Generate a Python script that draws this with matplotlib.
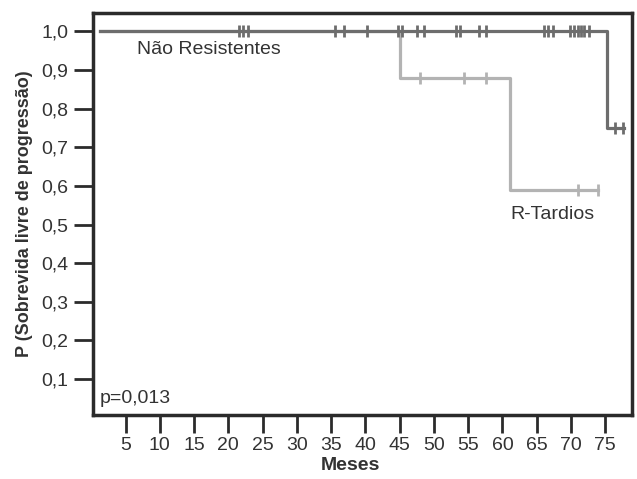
import numpy as np
import matplotlib
matplotlib.use("Agg")
import matplotlib.pyplot as plt

plt.rcParams['font.family'] = ['Liberation Sans', 'DejaVu Sans']

# Kaplan-Meier step curves (time in months, survival probability)
NR_TIMES = [1.2, 75.3, 77.8]
NR_SURV = [1.0, 0.75, 0.75]
NR_CENSOR = [21.5, 22.2, 22.9, 35.6, 36.9, 40.2, 44.8, 45.3, 47.5, 48.6,
             53.3, 53.8, 56.6, 57.6, 66.0, 66.7, 67.4, 69.9, 70.5, 71.1,
             71.5, 71.9, 72.6, 76.5, 77.6]

RT_TIMES = [1.2, 45.1, 61.1, 74.0]
RT_SURV = [1.0, 0.88, 0.59, 0.59]
RT_CENSOR = [48.0, 54.4, 57.6, 71.1, 74.0]

XTICKS = [5, 10, 15, 20, 25, 30, 35, 40, 45, 50, 55, 60, 65, 70, 75]
YTICKS = [0.1, 0.2, 0.3, 0.4, 0.5, 0.6, 0.7, 0.8, 0.9, 1.0]

DARK = '#6d6d6d'
LIGHT = '#b3b3b3'
TEXT = '#333333'
FRAME = '#2b2b2b'


def surv_at(times, surv, t):
    i = np.searchsorted(times, t, side='right') - 1
    return np.array(surv)[i]


def draw_curve(ax, times, surv, censor, color):
    ax.step(times, surv, where='post', color=color, lw=2.3, zorder=3)
    ax.plot(censor, surv_at(times, surv, censor), ls='none', marker='|',
            ms=9, mew=2, color=color, zorder=4)


def main():
    fig = plt.figure(figsize=(6.37, 4.79), dpi=100)
    ax = fig.add_axes([0.146, 0.1336, 0.846, 0.8394])

    draw_curve(ax, RT_TIMES, RT_SURV, RT_CENSOR, LIGHT)
    draw_curve(ax, NR_TIMES, NR_SURV, NR_CENSOR, DARK)

    ax.set_xlim(0.25, 78.9)
    ax.set_ylim(0.007, 1.048)
    ax.set_xticks(XTICKS)
    ax.set_yticks(YTICKS)
    ax.set_yticklabels([("%.1f" % v).replace('.', ',') for v in YTICKS])
    ax.tick_params(axis='both', length=13, width=2, color=FRAME,
                   labelsize=14, labelcolor=TEXT, pad=3)
    ax.tick_params(axis='y', length=14, pad=4)
    for s in ax.spines.values():
        s.set_linewidth(2.5)
        s.set_color(FRAME)

    ax.set_xlabel("Meses", fontsize=14, fontweight='bold', color=TEXT)
    ax.xaxis.set_label_coords(0.477, -0.105)
    ax.set_ylabel("P (Sobrevida livre de progressão)", fontsize=13,
                  fontweight='bold', color=TEXT, labelpad=6)

    ax.text(6.6, 0.953, "Não Resistentes", fontsize=14, color=TEXT, va='center')
    ax.text(61.1, 0.525, "R-Tardios", fontsize=14, color=TEXT, va='center')
    ax.text(1.2, 0.051, "p=0,013", fontsize=14, color=TEXT, va='center')

    fig.savefig("out.png", dpi=100)
    plt.close('all')


if __name__ == '__main__':
    main()
